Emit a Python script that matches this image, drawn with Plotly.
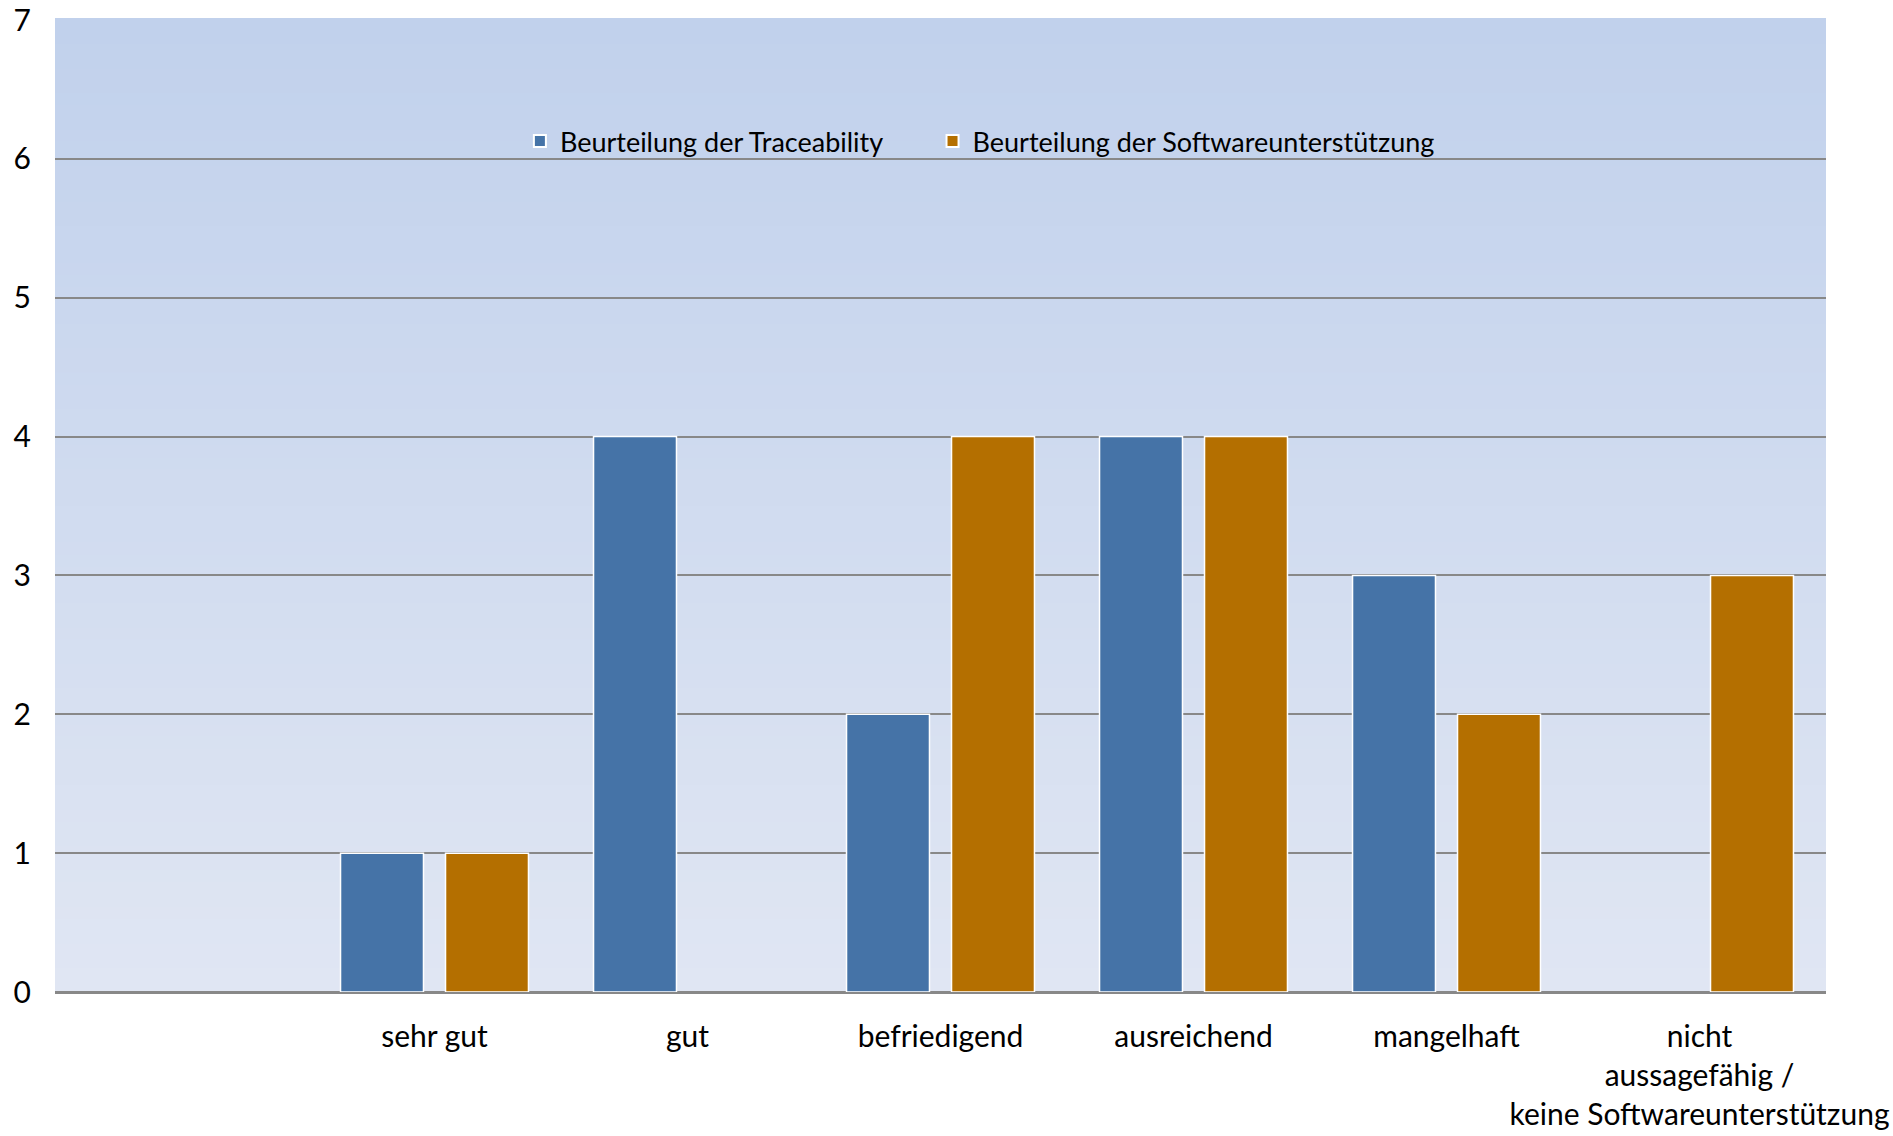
import plotly.graph_objects as go

# ---- data ----
categories = ["sehr gut", "gut", "befriedigend", "ausreichend", "mangelhaft",
              "nicht<br>aussagefähig /<br>keine Softwareunterstützung"]
traceability = [1, 4, 2, 4, 3, 0]
software = [1, 0, 4, 4, 2, 3]
series_names = ["Beurteilung der Traceability", "Beurteilung der Softwareunterstützung"]
y_ticks = [0, 1, 2, 3, 4, 5, 6, 7]

BLUE = "#4573A7"
ORANGE = "#B46F00"
FONT = "Lato, 'Open Sans', sans-serif"


def nz(vals):
    # zero-height bars are not drawn (avoids white outline on the axis)
    return [v if v else None for v in vals]


fig = go.Figure()
fig.add_trace(go.Bar(x=categories, y=nz(traceability), name=series_names[0], legend="legend",
                     marker=dict(color=BLUE, line=dict(color="white", width=1.5))))
fig.add_trace(go.Bar(x=categories, y=nz(software), name=series_names[1], legend="legend2",
                     marker=dict(color=ORANGE, line=dict(color="white", width=1.5))))

# gradient background (styling only)
top = (193, 209, 236)
bot = (224, 230, 243)
n = 80
shapes = []
for i in range(n):
    t = i / (n - 1)
    c = tuple(round(bot[k] + (top[k] - bot[k]) * t) for k in range(3))
    shapes.append(dict(type="rect", xref="x domain", yref="y domain",
                       x0=0, x1=1, y0=i / n, y1=(i + 1) / n + 0.002,
                       fillcolor="rgb(%d,%d,%d)" % c, line=dict(width=0),
                       layer="below"))

legend_common = dict(orientation="h", xanchor="left", y=0.875, yanchor="middle",
                     bgcolor="rgba(0,0,0,0)", font=dict(size=27), itemsizing="constant")

fig.update_layout(
    width=1893, height=1136,
    margin=dict(l=55, r=67, t=20, b=144),
    paper_bgcolor="white",
    plot_bgcolor="rgba(0,0,0,0)",
    barmode="group",
    bargap=0.17,
    bargroupgap=0.21,
    shapes=shapes,
    font=dict(family=FONT, size=30, color="black"),
    legend=dict(x=0.2625, **legend_common),
    legend2=dict(x=0.4955, **legend_common),
    showlegend=True,
)
fig.update_xaxes(type="category", range=[-1.5, 5.5], showgrid=False, showline=False,
                 zeroline=False, ticks="", ticklabelstandoff=24, automargin=False,
                 tickangle=0, tickfont=dict(size=30))
fig.update_yaxes(range=[0, 7], tickvals=y_ticks, showgrid=True, gridcolor="#888888",
                 gridwidth=2, zeroline=True, zerolinecolor="#888888", zerolinewidth=3,
                 showline=False, ticks="", ticklabelstandoff=23, automargin=False,
                 tickfont=dict(size=30))

fig.write_html("out.html", config={"displayModeBar": False},
               post_script="document.body.style.margin='0';")
